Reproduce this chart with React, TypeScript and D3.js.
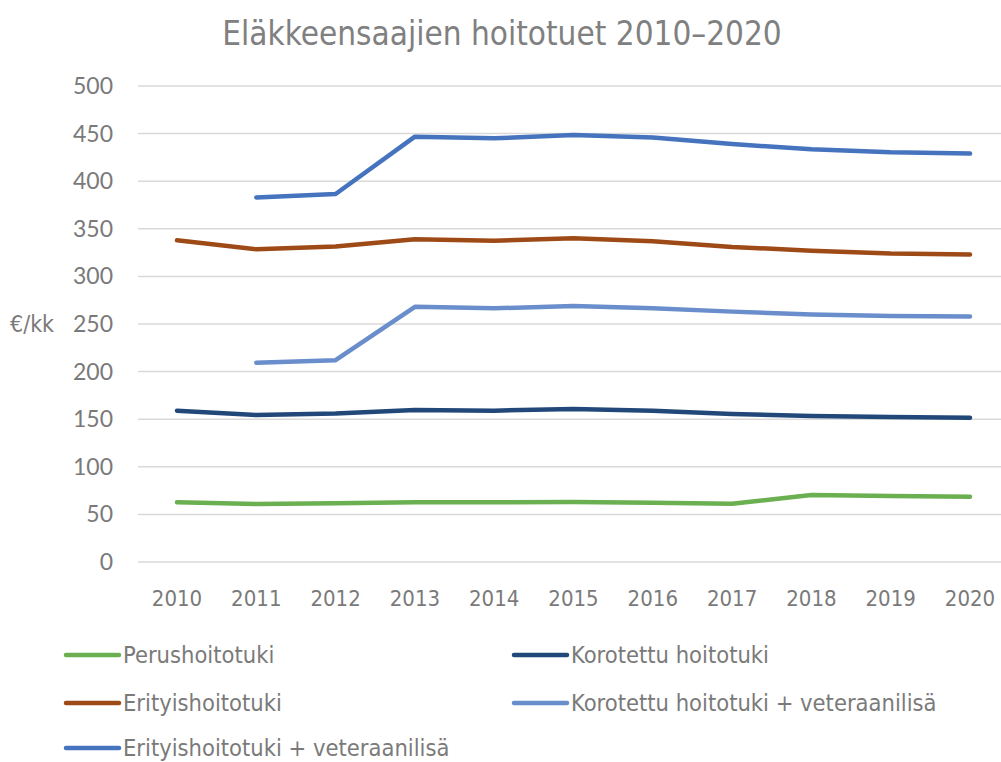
import React, { useEffect, useRef } from 'react';
import * as d3 from 'd3';

const years = ['2010', '2011', '2012', '2013', '2014', '2015', '2016', '2017', '2018', '2019', '2020'];

const perus = [62.7, 61, 61.6, 62.7, 62.7, 63, 62.3, 61.2, 70.4, 69.3, 68.6];
const korotettu = [159, 154.4, 156, 159.7, 159, 160.7, 159, 155.5, 153.4, 152.3, 151.6];
const erityis = [338, 328.4, 331.5, 339, 337.5, 340, 337, 331, 327, 324, 323];
const korotettuVet = [null, 209.4, 212, 268, 266.5, 269, 266.5, 263, 260, 258.4, 258];
const erityisVet = [null, 383, 386.6, 446.8, 445, 448.5, 446, 439, 433.5, 430.3, 429];

const yTicks = [0, 50, 100, 150, 200, 250, 300, 350, 400, 450, 500];

interface Series {
  name: string;
  values: (number | null)[];
  color: string;
}

const series: Series[] = [
  { name: 'Perushoitotuki', values: perus, color: '#6AAF50' },
  { name: 'Korotettu hoitotuki', values: korotettu, color: '#22487A' },
  { name: 'Erityishoitotuki', values: erityis, color: '#9E4A17' },
  { name: 'Korotettu hoitotuki + veteraanilisä', values: korotettuVet, color: '#6A8DCB' },
  { name: 'Erityishoitotuki + veteraanilisä', values: erityisVet, color: '#4673BE' },
];

const W = 1001;
const H = 762;
const textColor = '#7a7a7a';
const font = '"DejaVu Sans Condensed", "DejaVu Sans", sans-serif';

const Chart: React.FC = () => {
  const ref = useRef<SVGSVGElement>(null);

  useEffect(() => {
    if (!ref.current) return;
    const svg = d3.select(ref.current);
    svg.selectAll('*').remove();

    const x = d3.scalePoint<string>().domain(years).range([177, 970]);
    const y = d3.scaleLinear().domain([0, 500]).range([562, 86]);

    // title
    svg
      .append('text')
      .attr('x', 502)
      .attr('y', 45)
      .attr('text-anchor', 'middle')
      .style('font-family', font)
      .style('font-weight', 300)
      .style('font-size', '33px')
      .style('fill', '#808080')
      .text('Eläkkeensaajien hoitotuet 2010–2020');

    // gridlines
    svg
      .append('g')
      .selectAll('line')
      .data(yTicks)
      .enter()
      .append('line')
      .attr('x1', 138)
      .attr('x2', W)
      .attr('y1', (d) => y(d))
      .attr('y2', (d) => y(d))
      .attr('stroke', '#d9d9d9')
      .attr('stroke-width', 1.5);

    // y labels
    svg
      .append('g')
      .selectAll('text')
      .data(yTicks)
      .enter()
      .append('text')
      .attr('x', 113)
      .attr('y', (d) => y(d))
      .attr('dy', '0.35em')
      .attr('text-anchor', 'end')
      .style('font-family', 'Lato, sans-serif')
      .style('font-size', '23px')
      .style('fill', textColor)
      .text((d) => d);

    svg
      .append('text')
      .attr('x', 10)
      .attr('y', y(250))
      .attr('dy', '0.35em')
      .style('font-family', font)
      .style('font-size', '23px')
      .style('fill', textColor)
      .text('€/kk');

    // x labels
    svg
      .append('g')
      .selectAll('text')
      .data(years)
      .enter()
      .append('text')
      .attr('x', (d) => x(d) as number)
      .attr('y', 606)
      .attr('text-anchor', 'middle')
      .style('font-family', font)
      .style('font-size', '22px')
      .style('fill', textColor)
      .text((d) => d);

    // lines
    const line = d3
      .line<number | null>()
      .defined((d) => d !== null)
      .x((_, i) => x(years[i]) as number)
      .y((d) => y(d as number));

    svg
      .append('g')
      .selectAll('path')
      .data(series)
      .enter()
      .append('path')
      .attr('d', (d) => line(d.values))
      .attr('fill', 'none')
      .attr('stroke', (d) => d.color)
      .attr('stroke-width', 4.5)
      .attr('stroke-linecap', 'round')
      .attr('stroke-linejoin', 'round');

    // legend
    const legendPos = [
      [64, 655],
      [512, 655],
      [64, 703],
      [512, 703],
      [64, 748],
    ];
    const lg = svg
      .append('g')
      .selectAll('g')
      .data(series)
      .enter()
      .append('g')
      .attr('transform', (_, i) => `translate(${legendPos[i][0]}, ${legendPos[i][1]})`);
    lg.append('line')
      .attr('x1', 2)
      .attr('x2', 55)
      .attr('y1', 0)
      .attr('y2', 0)
      .attr('stroke', (d) => d.color)
      .attr('stroke-width', 4.5)
      .attr('stroke-linecap', 'round');
    lg.append('text')
      .attr('x', 59)
      .attr('y', 0)
      .attr('dy', '0.35em')
      .style('font-family', font)
      .style('font-size', '23.5px')
      .style('fill', textColor)
      .text((d) => d.name);
  }, []);

  return <svg ref={ref} width={W} height={H} style={{ display: 'block' }}></svg>;
};

export default function App() {
  return (
    <div
      style={{
        position: 'fixed',
        top: 0,
        left: 0,
        width: W,
        height: H,
        overflow: 'hidden',
        background: '#fff',
      }}
    >
      <Chart />
    </div>
  );
}
